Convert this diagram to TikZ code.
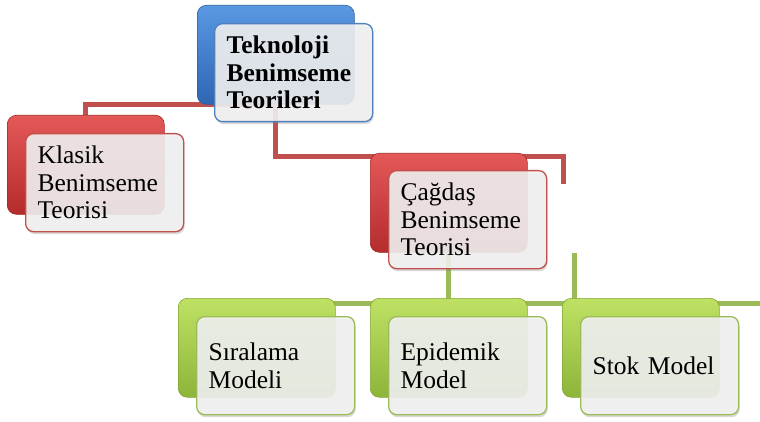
\documentclass[tikz,border=0pt]{standalone}
\usepackage{fontspec}
\setmainfont{Liberation Serif}
\usetikzlibrary{shadows}
\pgfdeclarelayer{background}
\pgfsetlayers{background,main}
\definecolor{bluetop}{HTML}{5A98E2}
\definecolor{bluemid}{HTML}{3A7DD0}
\definecolor{bluebot}{HTML}{2E66B4}
\definecolor{blueedge}{HTML}{2C5E9E}
\definecolor{blueline}{HTML}{4F81BD}
\definecolor{redtop}{HTML}{E45858}
\definecolor{redmid}{HTML}{D43E3E}
\definecolor{redbot}{HTML}{B52C2C}
\definecolor{rededge}{HTML}{A32626}
\definecolor{redline}{HTML}{C0504D}
\definecolor{greentop}{HTML}{BFE163}
\definecolor{greenmid}{HTML}{A5CC47}
\definecolor{greenbot}{HTML}{8DB53A}
\definecolor{greenedge}{HTML}{80A636}
\definecolor{greenline}{HTML}{9BBB59}
\tikzset{
  backbox/.style={rounded corners=9pt, minimum width=157pt, minimum height=99pt,
    anchor=north west, inner sep=0pt, draw=#1edge, line width=0.6pt,
    top color=#1top, middle color=#1mid, bottom color=#1bot},
  frontbox/.style={rounded corners=8pt, minimum width=158pt, minimum height=98pt,
    text width=134pt, inner xsep=12pt, inner ysep=0pt, align=left,
    anchor=north west, draw=#1line, line width=1.3pt,
    fill=white!95!black, fill opacity=0.88, text opacity=1,
    drop shadow={opacity=0.3, shadow xshift=1pt, shadow yshift=-2.5pt},
    font=\fontsize{25.5}{27.5}\selectfont},
  conn/.style={draw=#1line, line width=5pt},
}
\begin{document}
\begin{tikzpicture}[x=1pt, y=-1pt]
\useasboundingbox (0,0) rectangle (760,422);

% free ends of connectors
\coordinate (rEnd) at (563,184);
\coordinate (gRight) at (760,303);
\coordinate (gStubTop) at (574,253);
\coordinate (gStubBot) at (574,303);

% back boxes
\node[backbox=blue]  (topB) at (197,5) {};
\node[backbox=red]   (klaB) at (7,115) {};
\node[backbox=red]   (cagB) at (370,153) {};
\node[backbox=green] (sirB) at (178,298) {};
\node[backbox=green] (epiB) at (370,298) {};
\node[backbox=green] (stoB) at (562,298) {};

% front boxes with text
\node[frontbox=blue]  (topF) at (214,23) {\textbf{Teknoloji Benimseme Teorileri}};
\node[frontbox=red]   (klaF) at (25,133) {Klasik\\Benimseme\\Teorisi};
\node[frontbox=red]   (cagF) at (388,170) {Çağdaş\\Benimseme\\Teorisi};
\node[frontbox=green] (sirF) at (196,316) {Sıralama\\Modeli};
\node[frontbox=green] (epiF) at (388,316) {Epidemik\\Model};
\node[frontbox=green] (stoF) at (580,316) {Stok Model};

% connectors, behind the boxes
\begin{pgfonlayer}{background}
\draw[conn=red] (topB.south) -| (klaB.north);
\draw[conn=red] (topB.south) |- ([yshift=-4pt]cagB.north) -| (rEnd);
\draw[conn=green] (cagB.south) -- (cagB.south |- gRight);
\draw[conn=green] ([yshift=-5pt]sirB.north) -- (gRight);
\draw[conn=green] (gStubTop) -- (gStubBot);
\end{pgfonlayer}
\end{tikzpicture}
\end{document}
